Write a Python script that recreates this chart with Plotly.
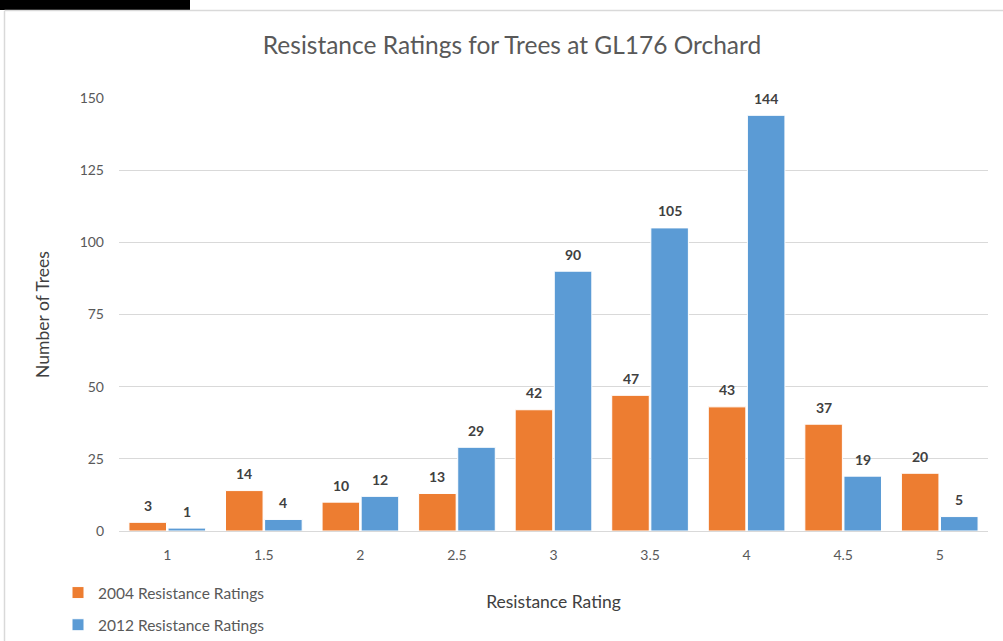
import plotly.graph_objects as go

categories = ["1", "1.5", "2", "2.5", "3", "3.5", "4", "4.5", "5"]
ratings_2004 = [3, 14, 10, 13, 42, 47, 43, 37, 20]
ratings_2012 = [1, 4, 12, 29, 90, 105, 144, 19, 5]
y_ticks = [0, 25, 50, 75, 100, 125, 150]

ORANGE = "#ED7D31"
BLUE = "#5B9BD5"
GRAY = "#595959"
FONT = "Lato, Open Sans, sans-serif"

FW, FH = 1003, 641
L, R, T, B = 119, 988, 98, 531
W, H = R - L, B - T
BARGAP, GROUPGAP = 0.19, 0.04

fig = go.Figure()
fig.add_trace(go.Bar(
    x=categories, y=ratings_2004, name="2004 Resistance Ratings",
    marker=dict(color=ORANGE, line=dict(color="white", width=1)),
    legendgroup="a",
))
fig.add_trace(go.Bar(
    x=categories, y=ratings_2012, name="2012 Resistance Ratings",
    marker=dict(color=BLUE, line=dict(color="white", width=1)),
    legendgroup="b",
))

# data labels placed above each bar (x given as category index)
slot = (W / len(categories)) * (1 - BARGAP) / 2
annotations = []
for series, shift in ((ratings_2004, -slot / 2), (ratings_2012, slot / 2)):
    for i, v in enumerate(series):
        annotations.append(dict(
            x=i, y=v, xref="x", yref="y", text=f"<b>{v}</b>",
            showarrow=False, xshift=shift, yshift=17,
            xanchor="center", yanchor="middle",
            font=dict(family=FONT, size=14, color="#404040"),
        ))

def px_x(p):
    return (p - L) / W

def px_y(p):
    return (B - p) / H

shapes = [
    dict(type="rect", xref="paper", yref="paper",
         x0=px_x(0), x1=px_x(190), y0=px_y(10), y1=px_y(0),
         fillcolor="black", line=dict(width=0), layer="above"),
    dict(type="line", xref="paper", yref="paper",
         x0=px_x(4.5), x1=px_x(4.5), y0=px_y(11), y1=px_y(645),
         line=dict(color="#d9d9d9", width=1.5)),
    dict(type="line", xref="paper", yref="paper",
         x0=px_x(4.5), x1=px_x(1010), y0=px_y(10.5), y1=px_y(10.5),
         line=dict(color="#d9d9d9", width=1.5)),
]

fig.update_layout(
    width=FW, height=FH,
    margin=dict(l=L, r=FW - R, t=T, b=FH - B, autoexpand=False),
    paper_bgcolor="white", plot_bgcolor="white",
    font=dict(family=FONT, color=GRAY, size=14),
    title=dict(text="Resistance Ratings for Trees at GL176 Orchard",
               x=512 / FW, xref="container", xanchor="center",
               y=1 - 45 / FH, yref="container", yanchor="middle",
               font=dict(size=24.5, color=GRAY, family=FONT)),
    barmode="group", bargap=BARGAP, bargroupgap=GROUPGAP,
    showlegend=True,
    legend=dict(x=px_x(58), y=px_y(576), xanchor="left", yanchor="top",
                itemwidth=30, orientation="v", tracegroupgap=9,
                font=dict(size=15.5, color=GRAY, family=FONT),
                bgcolor="rgba(0,0,0,0)"),
    shapes=shapes,
    annotations=annotations,
    xaxis=dict(
        type="category", showgrid=False, showline=True,
        linecolor="#d9d9d9", linewidth=1, ticks="",
        tickfont=dict(size=14, color=GRAY), ticklabelstandoff=11,
        title=dict(text="Resistance Rating", standoff=33,
                   font=dict(size=17.5, color="#404040")),
    ),
    yaxis=dict(
        range=[0, 150], tickvals=y_ticks, showgrid=True,
        gridcolor="#d9d9d9", gridwidth=1, zeroline=False,
        showline=False, ticks="", ticklabelstandoff=14,
        tickfont=dict(size=14, color=GRAY),
        title=dict(text="Number of Trees", standoff=25,
                   font=dict(size=17.5, color="#404040")),
    ),
)

fig.write_html(
    "out.html",
    config={"displayModeBar": False},
    post_script="document.body.style.margin='0';document.body.style.overflow='hidden';",
)
